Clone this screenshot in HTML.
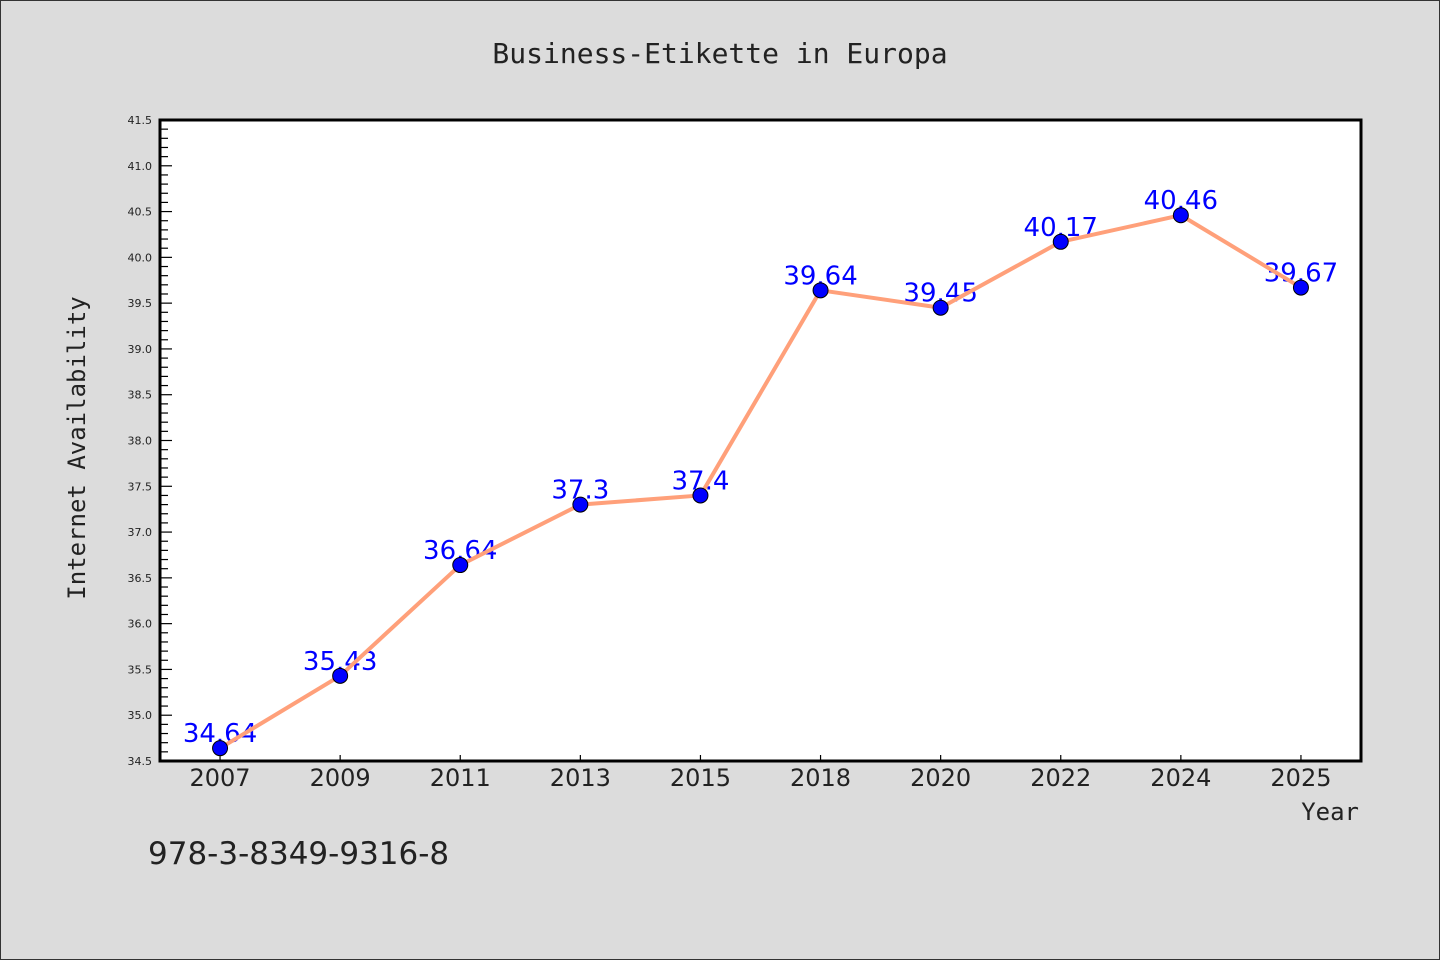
<!DOCTYPE html>
<html><head><meta charset="utf-8"><style>
html,body{margin:0;padding:0;background:#dcdcdc;}
svg{display:block;}
</style></head><body>
<svg id="chart" width="1440" height="960" xmlns="http://www.w3.org/2000/svg">
<rect x="0.5" y="0.5" width="1439" height="959" fill="#dcdcdc" stroke="#333" stroke-width="1"/>
<text x="720" y="63" text-anchor="middle" font-family="DejaVu Sans Mono, Liberation Mono, monospace" font-size="28" fill="#222">Business-Etikette in Europa</text>
<rect x="160" y="120" width="1201" height="641" fill="#fff"/>
<g id="yaxis"></g>
<g id="xaxis"></g>
<g id="labels"></g>
<g id="series"></g>
<rect x="160" y="120" width="1201" height="641" fill="none" stroke="#000" stroke-width="3"/>
<text transform="translate(85,448) rotate(-90)" text-anchor="middle" font-family="DejaVu Sans Mono, Liberation Mono, monospace" font-size="24" fill="#222">Internet Availability</text>
<text x="1359" y="820" text-anchor="end" font-family="DejaVu Sans Mono, Liberation Mono, monospace" font-size="24" fill="#222">Year</text>
<text x="148" y="864" font-family="DejaVu Sans, Liberation Sans, sans-serif" font-size="31" fill="#222">978-3-8349-9316-8</text>
</svg>
<script>
const categories = ["2007","2009","2011","2013","2015","2018","2020","2022","2024","2025"];
const values = [34.64,35.43,36.64,37.3,37.4,39.64,39.45,40.17,40.46,39.67];
const valueLabels = ["34.64","35.43","36.64","37.3","37.4","39.64","39.45","40.17","40.46","39.67"];
const yTickLabels = ["34.5","35.0","35.5","36.0","36.5","37.0","37.5","38.0","38.5","39.0","39.5","40.0","40.5","41.0","41.5"];
const yMin = 34.5, yMax = 41.5;
const L=160,R=1361,T=120,B=761;
const NS="http://www.w3.org/2000/svg";
function y(v){return B-(v-yMin)/(yMax-yMin)*(B-T);}
function x(i){return L+(i+0.5)*(R-L)/categories.length;}
function mk(tag,attrs,parent){const e=document.createElementNS(NS,tag);for(const k in attrs)e.setAttribute(k,attrs[k]);parent.appendChild(e);return e;}
const ya=document.getElementById('yaxis'), xa=document.getElementById('xaxis'), lg=document.getElementById('labels'), sg=document.getElementById('series');
for(let k=0;k<=Math.round((yMax-yMin)*10);k++){
  const v=yMin+k*0.1; const major=k%5===0; const py=y(v);
  const t=mk('line',{x1:L,x2:L+(major?12:8),y1:py,y2:py,stroke:'#000','stroke-width':1.2},ya);
  
  
}
yTickLabels.forEach(s=>{
  const t=mk('text',{x:L-8,y:y(parseFloat(s))+4,'text-anchor':'end','font-family':'DejaVu Sans, Liberation Sans, sans-serif','font-size':11,fill:'#222'},ya);
  t.textContent=s;
  
  
});
categories.forEach((c,i)=>{
  const tk=mk('line',{x1:x(i),x2:x(i),y1:B,y2:B-6,stroke:'#000','stroke-width':1.2},xa);
  
  
  const t=mk('text',{x:x(i),y:B+25,'text-anchor':'middle','font-family':'DejaVu Sans, Liberation Sans, sans-serif','font-size':24,fill:'#222'},xa);
  t.textContent=c;
  
  
});
values.forEach((v,i)=>{
  const t=mk('text',{x:x(i),y:y(v)-6,'text-anchor':'middle','font-family':'DejaVu Sans, Liberation Sans, sans-serif','font-size':26,fill:'#0000ff'},lg);
  t.textContent=valueLabels[i];
  
  
});
const pl=mk('polyline',{points:values.map((v,i)=>x(i)+','+y(v)).join(' '),fill:'none',stroke:'#ffa07a','stroke-width':4,'stroke-linejoin':'round'},sg);


values.forEach((v,i)=>{
  const c=mk('circle',{cx:x(i),cy:y(v),r:7.5,fill:'#0000ff',stroke:'#000','stroke-width':1},sg);
  
  
});
</script>
</body></html>
